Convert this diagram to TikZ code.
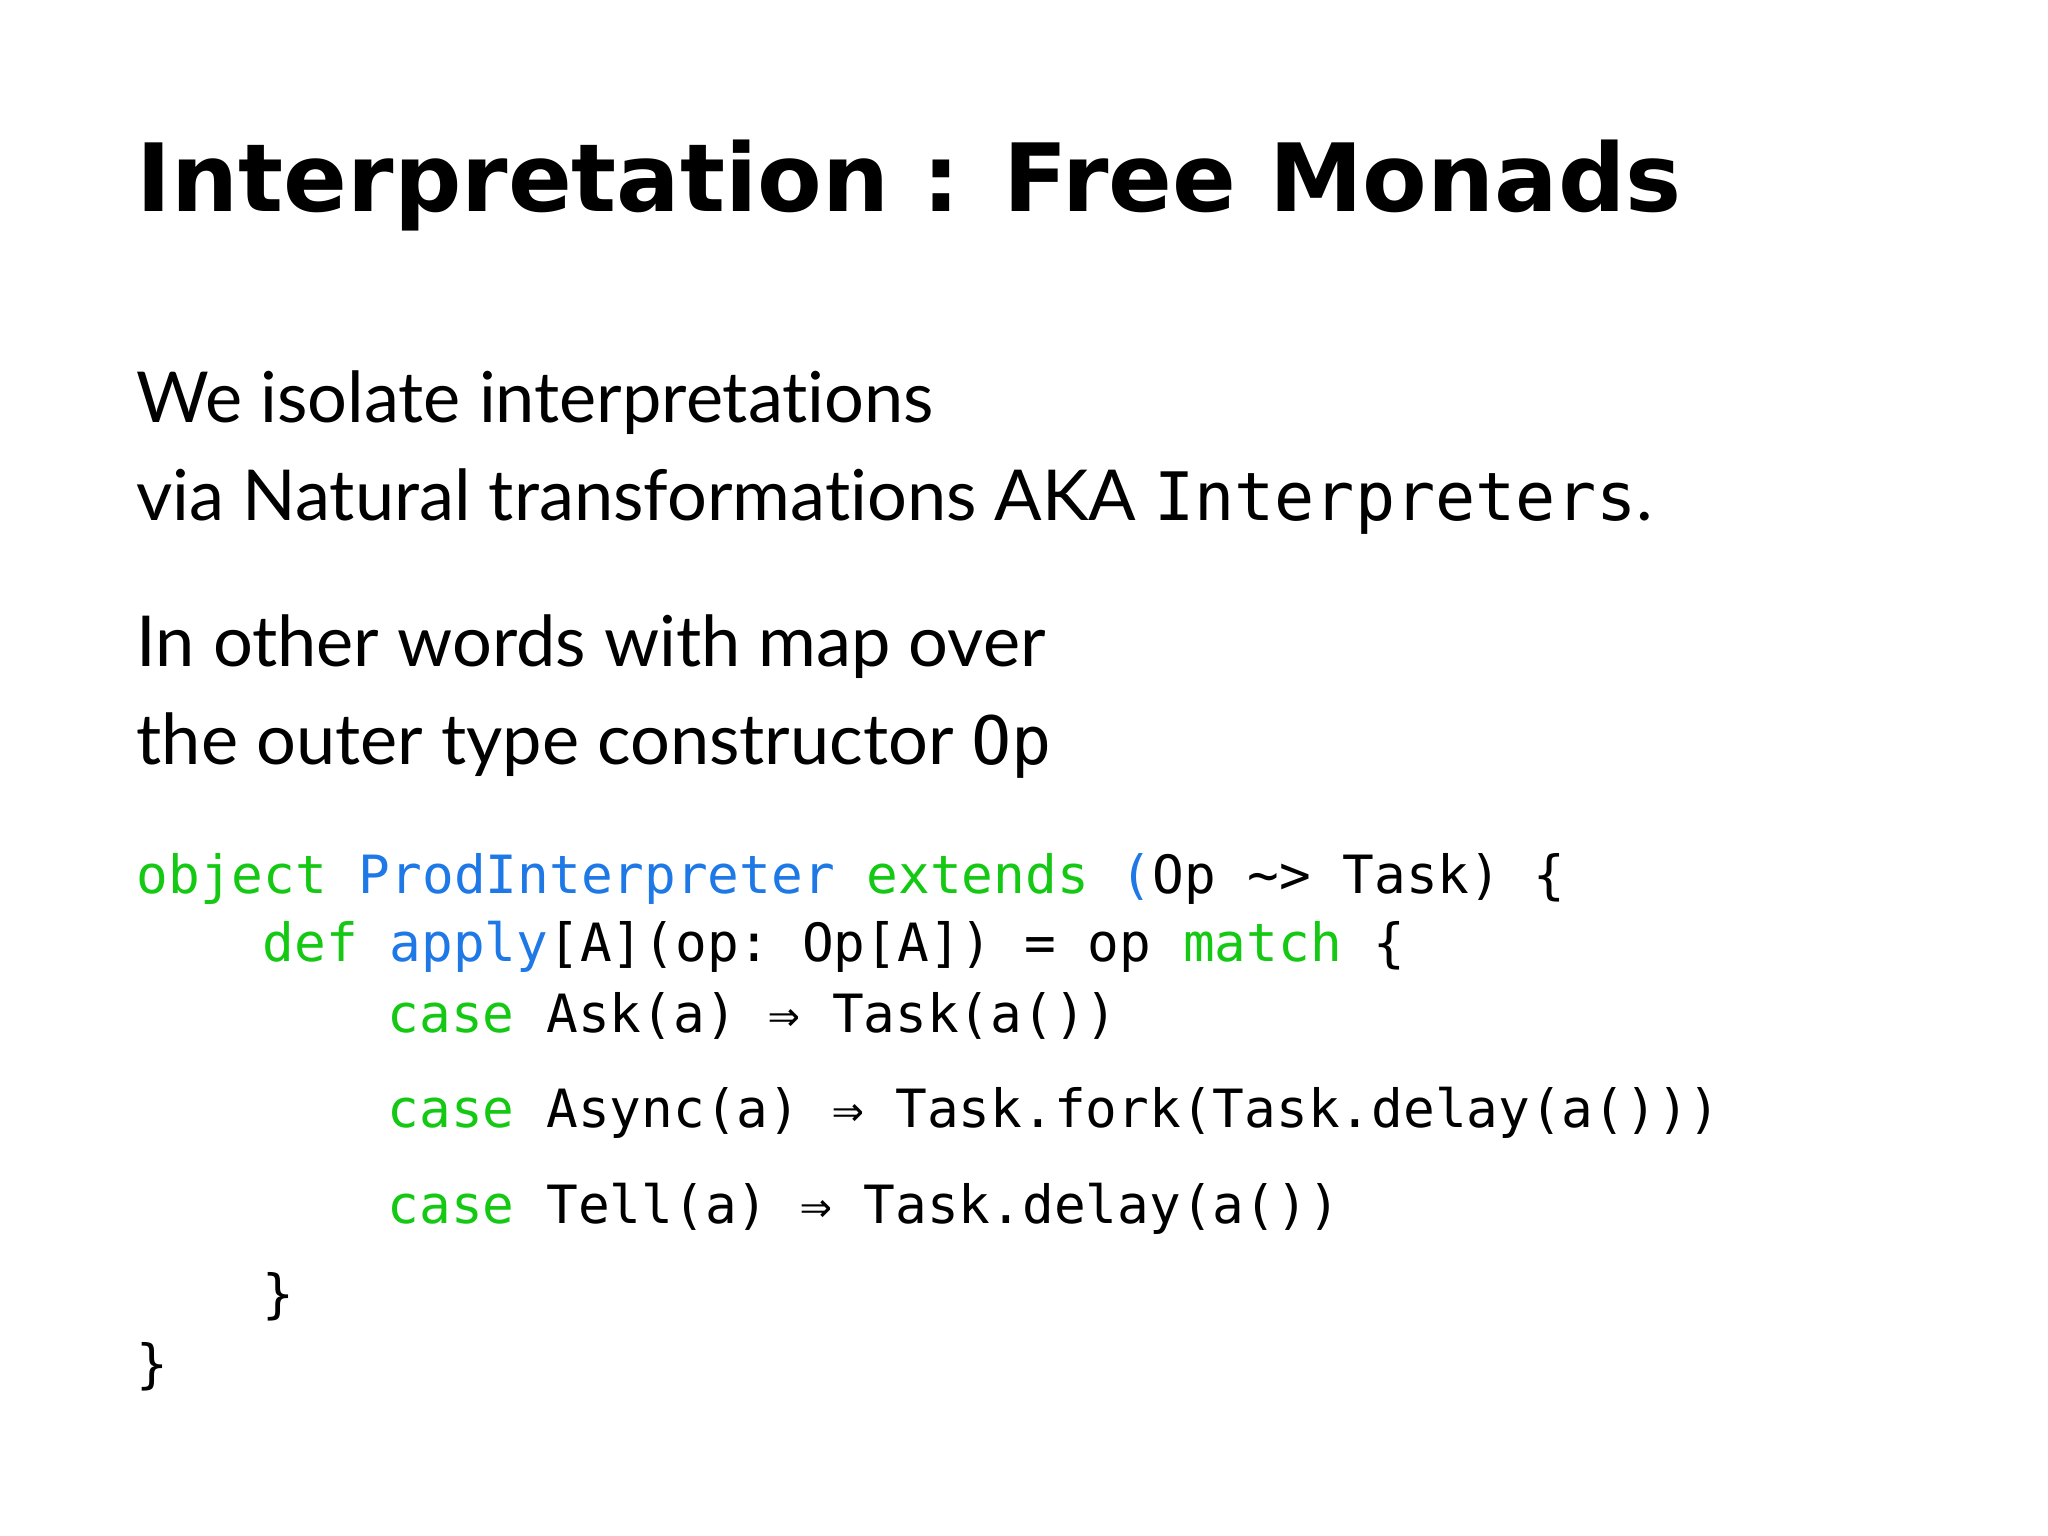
\documentclass[tikz,border=0pt]{standalone}
\usepackage{fontspec}
\setmainfont{Lato}[Ligatures=NoCommon]
\setsansfont{DejaVu Sans}
\setmonofont{DejaVu Sans Mono}
\usetikzlibrary{positioning}
\definecolor{kwgreen}{RGB}{20,200,20}
\definecolor{kwblue}{RGB}{30,120,230}
\newcommand{\kw}[1]{\textcolor{kwgreen}{#1}}
\newcommand{\ty}[1]{\textcolor{kwblue}{#1}}
\begin{document}
\begin{tikzpicture}
  [every node/.style={inner sep=0pt,anchor=base west},
   title/.style={font=\sffamily\bfseries\fontsize{34}{40}\selectfont},
   body/.style={font=\fontsize{20}{24}\selectfont},
   code/.style={font=\ttfamily\fontsize{15}{18}\selectfont}]
\useasboundingbox (0,0) rectangle (20.48,-15.36);
\node [title] (head) at (1.36,-2.12) {\resizebox{15.45cm}{!}{Interpretation : Free Monads}};
\node [body] (l1) at (1.36,-4.22) {We isolate interpretations};
\node [body] (l2) at (1.36,-5.21) {via Natural transformations AKA \texttt{\fontsize{19}{23}\selectfont Interpreters}.};
\node [body] (l3) at (1.36,-6.66) {In other words with map over};
\node [body] (l4) at (1.36,-7.65) {the outer type constructor \texttt{\fontsize{19}{23}\selectfont Op}};
\node [code] (c1) at (1.36,-8.93) {\kw{object} \ty{ProdInterpreter} \kw{extends} \ty{(}Op \~{}> Task) \{};
\node [code] (c2) at (2.62,-9.62) {\kw{def} \ty{apply}[A](op: Op[A]) = op \kw{match} \{};
\node [code] (c3) at (3.87,-10.32) {\kw{case} Ask(a) ⇒ Task(a())};
\node [code] (c4) at (3.87,-11.27) {\kw{case} Async(a) ⇒ Task.fork(Task.delay(a()))};
\node [code] (c5) at (3.87,-12.23) {\kw{case} Tell(a) ⇒ Task.delay(a())};
\node [code] (c6) at (2.62,-13.12) {\}};
\node [code] (c7) at (1.36,-13.82) {\}};
\end{tikzpicture}
\end{document}
